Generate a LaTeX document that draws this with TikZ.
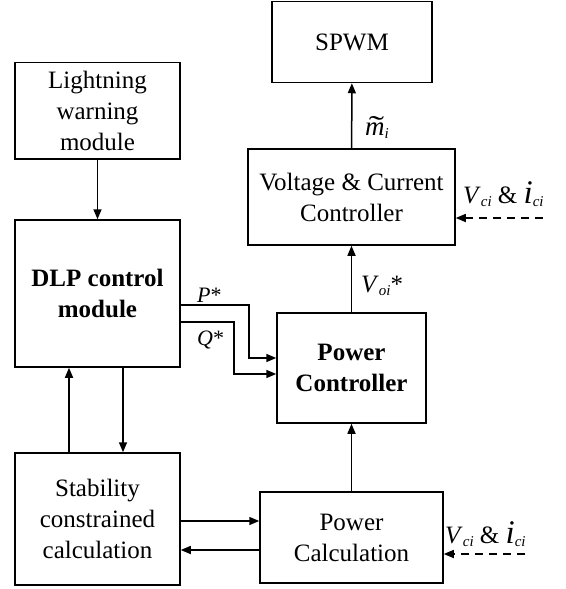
\documentclass[tikz,border=0pt]{standalone}
\usepackage{fontspec}
\setmainfont{Liberation Serif}
\usetikzlibrary{arrows.meta}
\newcommand\mysub[1]{\raisebox{-3pt}{\fontsize{15}{15}\selectfont\itshape #1}}
\newcommand\mytilm{\rlap{\raisebox{-0.05em}[0pt][0pt]{\kern0.14em\scalebox{1.7}[1.1]{\char"02DC}}}\textit{m}}
\newcommand\bigi{{\fontsize{33}{33}\selectfont\itshape i}}
\begin{document}
\begin{tikzpicture}[x=1pt,y=-1pt,
  box/.style={draw, line width=1.5pt, inner sep=0pt, align=center, font=\fontsize{25}{31}\selectfont},
  arr/.style={line width=1.5pt, -{Triangle[length=10pt,width=8pt]}},
  darr/.style={arr, dash pattern=on 8pt off 6pt},
  lbl/.style={inner sep=0pt, anchor=base west, font=\fontsize{25}{25}\selectfont}]
\useasboundingbox (0,0) rectangle (565,589);
% boxes
\node[box, minimum width=160pt, minimum height=81pt] (spwm) at (352,42) {SPWM};
\node[box, minimum width=207pt, minimum height=96pt] (vcc) at (351.5,197) {Voltage \& Current\\Controller};
\node[box, minimum width=149pt, minimum height=110pt, font=\fontsize{25}{31}\selectfont\bfseries] (pc) at (351.5,368) {Power\\Controller};
\node[box, minimum width=183pt, minimum height=91pt] (pcalc) at (351.5,537.5) {Power\\Calculation};
\node[box, minimum width=165pt, minimum height=96.5pt] (lw) at (97.5,110.75) {Lightning\\warning\\module};
\node[box, minimum width=165pt, minimum height=147pt, font=\fontsize{25}{31}\selectfont\bfseries] (dlp) at (97.5,293.5) {DLP control\\module};
\node[box, minimum width=165pt, minimum height=132pt] (stab) at (97.5,519) {Stability\\constrained\\calculation};
% coordinates
\coordinate (p1) at (249,305);
\coordinate (p2) at (249,358);
\coordinate (q1) at (234,322);
\coordinate (q2) at (234,374);
\coordinate (d1) at (543,218);
\coordinate (d2) at (525,554);
% connectors
\draw[arr] (lw) -- (dlp);
\draw[arr] ([xshift=-28.5pt]stab.north) -- ([xshift=-28.5pt]dlp.south);
\draw[arr] ([xshift=25.5pt]dlp.south) -- ([xshift=25.5pt]stab.north);
\draw[arr] (stab.east |- 0,521) -- (pcalc.west |- 0,521);
\draw[arr] (pcalc.west |- 0,550) -- (stab.east |- 0,550);
\draw[arr] (pcalc) -- (pc);
\draw[arr] (pc) -- (vcc);
\draw[arr] (vcc) -- (spwm);
\draw[arr] (dlp.east |- p1) -- (p1) -- (p2) -- (pc.west |- p2);
\draw[arr] (dlp.east |- q1) -- (q1) -- (q2) -- (pc.west |- q2);
\draw[darr] (d1) -- (vcc.east |- d1);
\draw[darr] (d2) -- (pcalc.east |- d2);
% labels
\node[lbl, font=\fontsize{27}{27}\selectfont] (lm) at (365,135) {\mytilm\mysub{i}};
\node[lbl] (lv) at (361,292) {\textit{V}\mysub{oi}*};
\node[lbl, font=\fontsize{22}{22}\selectfont] (lp) at (197,302) {\textit{P}*};
\node[lbl, font=\fontsize{22}{22}\selectfont] (lq) at (197,345) {\textit{Q}*};
\node[lbl] (lvc1) at (463,203) {\textit{V}\mysub{ci} \& \bigi\mysub{ci}};
\node[lbl] (lvc2) at (445,543) {\textit{V}\mysub{ci} \& \bigi\mysub{ci}};
\end{tikzpicture}
\end{document}
